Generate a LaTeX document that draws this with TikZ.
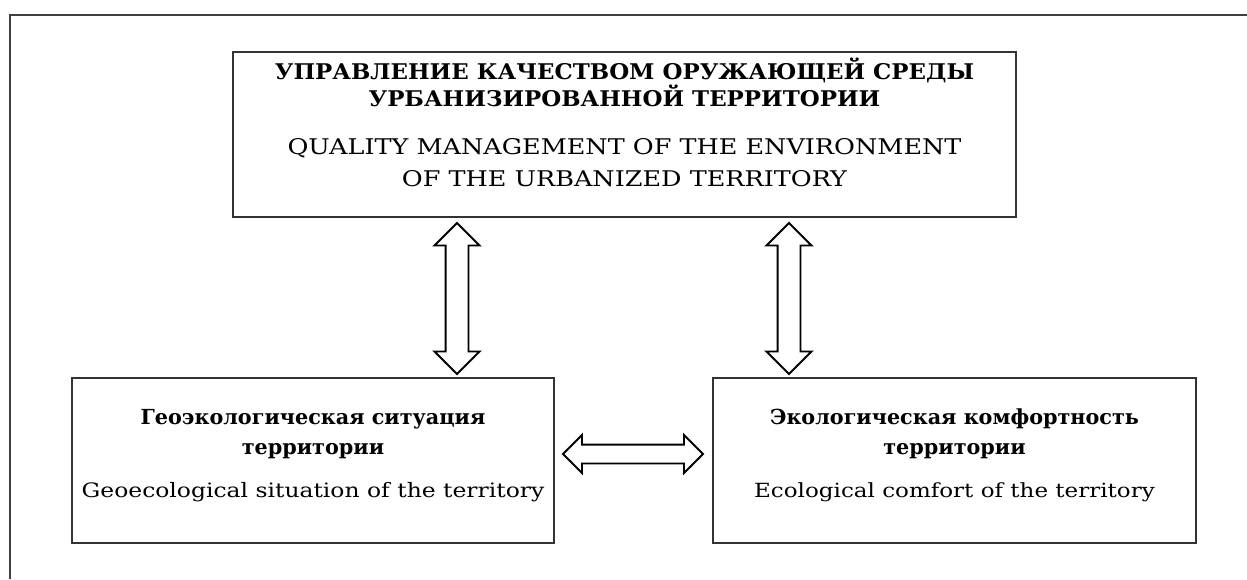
\documentclass[tikz,border=0pt]{standalone}
\usepackage{fontspec}
\setmainfont{DejaVu Serif}
\newfontfamily\widerm[FakeStretch=1.18]{DejaVu Serif}
\usetikzlibrary{positioning, shapes.arrows, calc}

\begin{document}
\begin{tikzpicture}[x=0.02cm,y=-0.02cm,
    box/.style={draw=black!80,line width=0.8pt,inner sep=0pt},
    txt/.style={inner sep=0pt,align=center},
    dbl/.style={double arrow,draw,line width=1.1pt,inner xsep=0pt,double arrow tip angle=90,double arrow head indent=0pt}]
            \useasboundingbox (0,0) rectangle (1247,579);
            \draw[black!75,line width=0.8pt] (1247,15) -- (10,15) -- (10,579);
            \node[box,minimum width=15.66cm,minimum height=3.3cm] (U) at (624.5,134.5){};
            \node[box,minimum width=9.64cm,minimum height=3.3cm] (G) at (313,460.5){};
            \node[box,minimum width=9.66cm,minimum height=3.3cm] (E) at (954.5,460.5){};
            \node[txt,font=\fontsize{12.3}{13.6}\selectfont,yshift=6.8pt] (Ut) at (U.center){{\bfseries\addfontfeature{FakeStretch=1.06}УПРАВЛЕНИЕ КАЧЕСТВОМ ОРУЖАЮЩЕЙ СРЕДЫ}\\{\bfseries\addfontfeature{FakeStretch=1.06}УРБАНИЗИРОВАННОЙ ТЕРРИТОРИИ}\\[13.6pt]{\widerm QUALITY MANAGEMENT OF THE ENVIRONMENT}\\[5.1pt]{\widerm OF THE URBANIZED TERRITORY}};
            \node[txt,font=\fontsize{11.8}{17}\selectfont,yshift=2.8pt] (Gt) at (G.center){\textbf{Геоэкологическая ситуация}\\\textbf{территории}\\[7.4pt]{\widerm\fontsize{11.3}{17}\selectfont Geoecological situation of the territory}};
            \node[txt,font=\fontsize{11.8}{17}\selectfont,yshift=2.8pt] (Et) at (E.center){\textbf{Экологическая комфортность}\\\textbf{территории}\\[7.4pt]{\widerm\fontsize{11.1}{17}\selectfont Ecological comfort of the territory}};
            \node[dbl,rotate=90,minimum height=3.02cm,minimum width=0.86cm,inner ysep=0.21cm,double arrow head extend=0.22cm] (UG) at (457,298.5){};
            \node[dbl,rotate=90,minimum height=3.02cm,minimum width=0.86cm,inner ysep=0.21cm,double arrow head extend=0.22cm] (UE) at (789,298.5){};
            \node[dbl,minimum height=2.8cm,minimum width=0.72cm,inner ysep=0.17cm,double arrow head extend=0.19cm] (GE) at (633,454){};
        \end{tikzpicture}
\end{document}
